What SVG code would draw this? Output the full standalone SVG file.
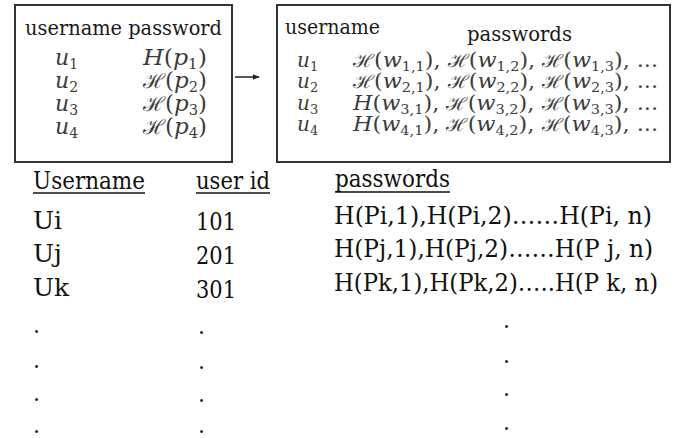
<svg xmlns="http://www.w3.org/2000/svg" width="678" height="438" viewBox="0 0 678 438" font-family="'DejaVu Serif', serif">
<style>
.box{fill:#fff;stroke:#333;stroke-width:2}
.hd{fill:#1a1a1a}
.m{font-size:20px;fill:#3c3c3c}
.ml{font-size:22px;fill:#3c3c3c}
.it{font-style:italic}
.cal{font-style:normal;font-size:18px}
.ml .cal{font-size:20px}
.sb{font-size:13px;font-style:normal}
.ml .sb{font-size:14px}
.t{font-size:25px;fill:#111}
.d{font-size:22px;fill:#111}
.ul{stroke:#111;stroke-width:1.3}
.conn{stroke:#222;stroke-width:1.5;fill:none}
</style>
<defs>
<marker id="ah" viewBox="0 0 10 10" refX="9" refY="5" markerWidth="7" markerHeight="7" orient="auto" markerUnits="userSpaceOnUse">
<path d="M0,1 L10,5 L0,9 z" fill="#222"/>
</marker>
</defs>
<rect width="678" height="438" fill="#fff"/>

<g id="node-old-table">
<rect class="box" x="15" y="5" width="217" height="157"/>
<text class="hd" x="25" y="35" font-size="21" textLength="197" lengthAdjust="spacingAndGlyphs">username password</text>
<text class="ml it" x="55" y="65">u<tspan class="sb" dy="4">1</tspan></text>
<text class="ml it" x="55" y="88">u<tspan class="sb" dy="4">2</tspan></text>
<text class="ml it" x="55" y="111">u<tspan class="sb" dy="4">3</tspan></text>
<text class="ml it" x="55" y="134">u<tspan class="sb" dy="4">4</tspan></text>
<text class="ml" x="143" y="65" textLength="64" lengthAdjust="spacingAndGlyphs"><tspan class="it">H</tspan>(<tspan class="it">p</tspan><tspan class="sb" dy="4">1</tspan><tspan dy="-4">)</tspan></text>
<text class="ml" x="143" y="88" textLength="64" lengthAdjust="spacingAndGlyphs"><tspan class="cal">ℋ</tspan>(<tspan class="it">p</tspan><tspan class="sb" dy="4">2</tspan><tspan dy="-4">)</tspan></text>
<text class="ml" x="143" y="111" textLength="64" lengthAdjust="spacingAndGlyphs"><tspan class="cal">ℋ</tspan>(<tspan class="it">p</tspan><tspan class="sb" dy="4">3</tspan><tspan dy="-4">)</tspan></text>
<text class="ml" x="143" y="134" textLength="64" lengthAdjust="spacingAndGlyphs"><tspan class="cal">ℋ</tspan>(<tspan class="it">p</tspan><tspan class="sb" dy="4">4</tspan><tspan dy="-4">)</tspan></text>
</g>

<g id="node-new-table">
<rect class="box" x="277" y="5" width="393" height="157"/>
<text class="hd" x="285" y="34" font-size="20" textLength="95" lengthAdjust="spacingAndGlyphs">username</text>
<text class="hd" x="467" y="41" font-size="21" textLength="105" lengthAdjust="spacingAndGlyphs">passwords</text>
<text class="m it" x="297" y="67">u<tspan class="sb" dy="4">1</tspan></text>
<text class="m it" x="297" y="88">u<tspan class="sb" dy="4">2</tspan></text>
<text class="m it" x="297" y="110">u<tspan class="sb" dy="4">3</tspan></text>
<text class="m it" x="297" y="131">u<tspan class="sb" dy="4">4</tspan></text>
<text class="m" x="353" y="67" textLength="305" lengthAdjust="spacingAndGlyphs"><tspan class="cal">ℋ</tspan>(<tspan class="it">w</tspan><tspan class="sb" dy="4">1,1</tspan><tspan dy="-4">), </tspan><tspan class="cal">ℋ</tspan>(<tspan class="it">w</tspan><tspan class="sb" dy="4">1,2</tspan><tspan dy="-4">), </tspan><tspan class="cal">ℋ</tspan>(<tspan class="it">w</tspan><tspan class="sb" dy="4">1,3</tspan><tspan dy="-4">), ...</tspan></text>
<text class="m" x="353" y="88" textLength="305" lengthAdjust="spacingAndGlyphs"><tspan class="cal">ℋ</tspan>(<tspan class="it">w</tspan><tspan class="sb" dy="4">2,1</tspan><tspan dy="-4">), </tspan><tspan class="cal">ℋ</tspan>(<tspan class="it">w</tspan><tspan class="sb" dy="4">2,2</tspan><tspan dy="-4">), </tspan><tspan class="cal">ℋ</tspan>(<tspan class="it">w</tspan><tspan class="sb" dy="4">2,3</tspan><tspan dy="-4">), ...</tspan></text>
<text class="m" x="353" y="110" textLength="305" lengthAdjust="spacingAndGlyphs"><tspan class="it">H</tspan>(<tspan class="it">w</tspan><tspan class="sb" dy="4">3,1</tspan><tspan dy="-4">), </tspan><tspan class="cal">ℋ</tspan>(<tspan class="it">w</tspan><tspan class="sb" dy="4">3,2</tspan><tspan dy="-4">), </tspan><tspan class="cal">ℋ</tspan>(<tspan class="it">w</tspan><tspan class="sb" dy="4">3,3</tspan><tspan dy="-4">), ...</tspan></text>
<text class="m" x="353" y="131" textLength="305" lengthAdjust="spacingAndGlyphs"><tspan class="it">H</tspan>(<tspan class="it">w</tspan><tspan class="sb" dy="4">4,1</tspan><tspan dy="-4">), </tspan><tspan class="cal">ℋ</tspan>(<tspan class="it">w</tspan><tspan class="sb" dy="4">4,2</tspan><tspan dy="-4">), </tspan><tspan class="cal">ℋ</tspan>(<tspan class="it">w</tspan><tspan class="sb" dy="4">4,3</tspan><tspan dy="-4">), ...</tspan></text>
</g>

<g id="connectors">
<line class="conn" x1="235" y1="77" x2="259" y2="77" marker-end="url(#ah)"/>
</g>

<g id="node-userid-table">
<text class="t" x="33" y="189" textLength="112" lengthAdjust="spacingAndGlyphs">Username</text>
<line class="ul" x1="33" y1="193" x2="145" y2="193"/>
<text class="t" x="196" y="189" textLength="74" lengthAdjust="spacingAndGlyphs">user id</text>
<line class="ul" x1="196" y1="193" x2="270" y2="193"/>
<text class="t" x="335" y="187" textLength="115" lengthAdjust="spacingAndGlyphs">passwords</text>
<line class="ul" x1="335" y1="192" x2="450" y2="192"/>
<text class="t" x="33" y="229">Ui</text>
<text class="t" x="196" y="230" textLength="40" lengthAdjust="spacingAndGlyphs">101</text>
<text class="t" x="334" y="224" textLength="318" lengthAdjust="spacingAndGlyphs">H(Pi,1),H(Pi,2)……H(Pi, n)</text>
<text class="t" x="33" y="262">Uj</text>
<text class="t" x="196" y="264" textLength="40" lengthAdjust="spacingAndGlyphs">201</text>
<text class="t" x="334" y="257" textLength="319" lengthAdjust="spacingAndGlyphs">H(Pj,1),H(Pj,2)……H(P j, n)</text>
<text class="t" x="33" y="296">Uk</text>
<text class="t" x="196" y="298" textLength="40" lengthAdjust="spacingAndGlyphs">301</text>
<text class="t" x="334" y="291" textLength="324" lengthAdjust="spacingAndGlyphs">H(Pk,1),H(Pk,2)…..H(P k, n)</text>
<text class="d" x="33" y="333">.</text>
<text class="d" x="33" y="368">.</text>
<text class="d" x="33" y="401">.</text>
<text class="d" x="33" y="433">.</text>
<text class="d" x="198" y="334">.</text>
<text class="d" x="198" y="369">.</text>
<text class="d" x="198" y="402">.</text>
<text class="d" x="198" y="433">.</text>
<text class="d" x="503" y="328">.</text>
<text class="d" x="503" y="363">.</text>
<text class="d" x="503" y="396">.</text>
<text class="d" x="503" y="430">.</text>
</g>
</svg>
